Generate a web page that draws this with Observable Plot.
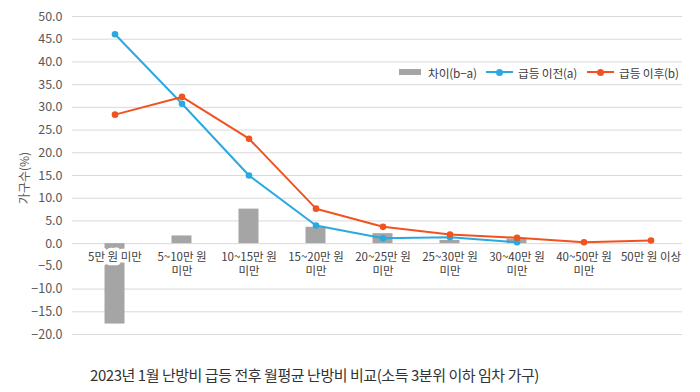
<!DOCTYPE html>
<html><head><meta charset="utf-8">
<script src="https://cdn.jsdelivr.net/npm/d3@7"></script>
<script src="https://cdn.jsdelivr.net/npm/@observablehq/plot@0.6"></script>
<style>
html,body{margin:0;padding:0;background:#fff;}
body{font-family:"Noto Sans CJK KR","Noto Sans",sans-serif;width:700px;height:392px;overflow:hidden;}
#wrap{position:relative;width:700px;height:392px;}
#ytitle{position:absolute;left:23px;top:178px;transform:translate(-50%,-50%) rotate(-90deg);font-size:12px;color:#595959;white-space:nowrap;}
#legend{position:absolute;left:0;top:0;width:700px;height:0;font-size:11.8px;color:#404040;white-space:nowrap;letter-spacing:-0.2px;}
#legend span{position:absolute;}
.txt{top:64px;line-height:17px;}
#title{position:absolute;left:90px;top:364px;font-size:15px;color:#333;white-space:nowrap;letter-spacing:-0.45px;}
</style></head>
<body><div id="wrap"><div id="chart"></div>
<div id="ytitle">가구수(%)</div>
<div id="legend"></div>
<div id="title">2023년 1월 난방비 급등 전후 월평균 난방비 비교(소득 3분위 이하 임차 가구)</div>
</div>
<script>
const categories = ["5만 원 미만","5~10만 원 미만","10~15만 원 미만","15~20만 원 미만","20~25만 원 미만","25~30만 원 미만","30~40만 원 미만","40~50만 원 미만","50만 원 이상"];
const tickLine1 = ["5만 원 미만","5~10만 원","10~15만 원","15~20만 원","20~25만 원","25~30만 원","30~40만 원","40~50만 원","50만 원 이상"];
const tickLine2 = ["","미만","미만","미만","미만","미만","미만","미만",""];
const before = [46.1, 30.8, 15.0, 4.0, 1.2, 1.4, 0.3, null, null];
const after = [28.4, 32.3, 23.1, 7.7, 3.7, 2.0, 1.3, 0.3, 0.7];
const diff = [-17.7, 1.7, 7.6, 3.6, 2.2, 0.7, 1.0, null, null];
const yTicks = [50,45,40,35,30,25,20,15,10,5,0,-5,-10,-15,-20];
const gridTicks = [50,45,40,35,30,25,20,15,10,5,0,-10,-15,-20];
const seriesNames = ["차이(b−a)","급등 이전(a)","급등 이후(b)"];
const colors = {bar:"#a5a5a5", before:"#2aa9e0", after:"#f0531f"};

const rows = categories.map((c,i)=>({cat:c, l1:tickLine1[i], l2:tickLine2[i], before:before[i], after:after[i], diff:diff[i]}));

const labelStyle = {fill:"#404040", stroke:"white", strokeWidth:7, paintOrder:"stroke", fontSize:11.5, lineAnchor:"middle"};

const chart = Plot.plot({
  width:700, height:350,
  marginLeft:80, marginRight:15, marginTop:16, marginBottom:16,
  style:{fontFamily:'"Noto Sans CJK KR","Noto Sans",sans-serif', fontSize:"12px", color:"#595959", background:"#fff"},
  x:{type:"band", domain:categories, padding:0, axis:null},
  y:{domain:[-20,50], axis:null},
  marks:[
    Plot.ruleY(gridTicks, {stroke:"#d9d9d9", strokeWidth:1, insetLeft:-8, insetRight:3}),
    Plot.barY(rows.filter(d=>d.diff!=null), {x:"cat", y:"diff", fill:colors.bar, insetLeft:23.5, insetRight:23.5}),
    Plot.text(rows, {x:"cat", y:()=>0, text:"l1", dy:13.6, ...labelStyle}),
    Plot.text(rows.filter(d=>d.l2), {x:"cat", y:()=>0, text:"l2", dy:27.4, ...labelStyle}),
    Plot.line(rows, {x:"cat", y:"before", stroke:colors.before, strokeWidth:2}),
    Plot.dot(rows.filter(d=>d.before!=null), {x:"cat", y:"before", fill:colors.before, r:3.3}),
    Plot.line(rows, {x:"cat", y:"after", stroke:colors.after, strokeWidth:2}),
    Plot.dot(rows.filter(d=>d.after!=null), {x:"cat", y:"after", fill:colors.after, r:3.3}),
    Plot.axisY(yTicks, {tickSize:0, tickPadding:18, tickFormat:d3.format(".1f"), fontSize:12.5, fill:"#595959", label:null})
  ]
});
document.getElementById("chart").appendChild(chart);

const lg = document.getElementById("legend");
lg.innerHTML =
  `<span style="left:399px;top:69px;width:22px;height:6px;background:${colors.bar}"></span>` +
  `<span class="txt" style="left:428px">${seriesNames[0]}</span>` +
  `<span style="left:486px;top:71px;width:27px;height:2px;background:${colors.before}"></span>` +
  `<span style="left:496px;top:68.5px;width:7px;height:7px;border-radius:50%;background:${colors.before}"></span>` +
  `<span class="txt" style="left:518px">${seriesNames[1]}</span>` +
  `<span style="left:587px;top:71px;width:27px;height:2px;background:${colors.after}"></span>` +
  `<span style="left:597px;top:68.5px;width:7px;height:7px;border-radius:50%;background:${colors.after}"></span>` +
  `<span class="txt" style="left:619px">${seriesNames[2]}</span>`;
</script>
</body></html>
